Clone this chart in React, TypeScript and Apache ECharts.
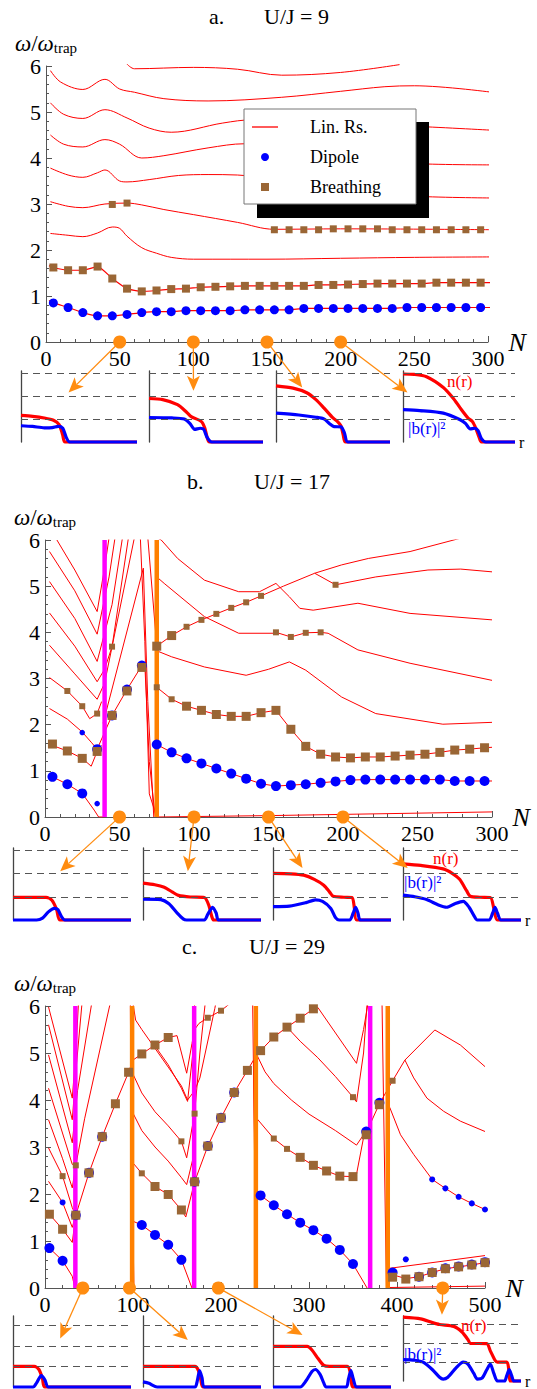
import React, { useEffect, useRef } from 'react';
import * as echarts from 'echarts';

const RED = '#ff0000';
const BLUE = '#0000ff';
const BROWN = '#9a6635';
const ORANGE = '#ff8000';
const MAGENTA = '#ff00ff';
const DOT = '#ff8c10';
const AXIS = '#555555';
const SERIF = '"Liberation Serif", "DejaVu Serif", serif';

// ---------------- Panel a : U/J = 9 ----------------
const aN = [5, 15, 25, 35, 45, 55, 65, 75, 85, 95, 105, 115, 125, 135, 145, 155, 165, 175, 185, 195, 205, 215, 225, 235, 245, 255, 265, 275, 285, 295];
const aDipoleV = [0.85, 0.75, 0.64, 0.57, 0.57, 0.6, 0.64, 0.66, 0.66, 0.68, 0.68, 0.68, 0.68, 0.7, 0.7, 0.7, 0.7, 0.73, 0.73, 0.73, 0.73, 0.73, 0.73, 0.73, 0.75, 0.75, 0.75, 0.75, 0.75, 0.75];
const aBreathV = [1.62, 1.56, 1.56, 1.64, 1.38, 1.16, 1.1, 1.12, 1.15, 1.16, 1.19, 1.2, 1.21, 1.22, 1.22, 1.22, 1.22, 1.22, 1.24, 1.24, 1.25, 1.26, 1.27, 1.27, 1.27, 1.27, 1.29, 1.29, 1.29, 1.29];
const aBreathUpper = [[45, 2.99], [55, 3.02], [155, 2.44], [165, 2.44], [175, 2.44], [185, 2.44], [195, 2.46], [205, 2.46], [215, 2.46], [225, 2.46], [235, 2.44], [245, 2.44], [255, 2.44], [265, 2.44], [275, 2.44], [285, 2.44], [295, 2.44]];
const aLines = [
  [[3, 2.36], [15, 2.32], [25, 2.29], [35, 2.37], [45, 2.5], [50, 2.47], [55, 2.3], [65, 2.05], [75, 1.93], [85, 1.84], [100, 1.8], [150, 1.8], [200, 1.82], [250, 1.84], [305, 1.85]],
  [[3, 3.05], [15, 2.95], [25, 2.92], [40, 3.0], [55, 3.02], [65, 2.98], [80, 2.88], [100, 2.77], [130, 2.6], [155, 2.45], [200, 2.46], [305, 2.44]],
  [[3, 3.78], [15, 3.63], [25, 3.58], [35, 3.68], [40, 3.74], [50, 3.5], [55, 3.48], [70, 3.53], [90, 3.62], [110, 3.64], [130, 3.63], [150, 3.55], [200, 3.3], [250, 3.17], [305, 3.13]],
  [[3, 4.5], [12, 4.3], [25, 4.24], [40, 4.4], [50, 4.3], [65, 4.0], [80, 4.05], [110, 4.22], [135, 4.31], [165, 4.3], [200, 4.1], [250, 3.88], [305, 3.85]],
  [[3, 5.2], [12, 4.95], [25, 4.86], [40, 5.05], [55, 4.87], [70, 4.65], [85, 4.56], [120, 4.76], [140, 4.83], [200, 4.75], [250, 4.69], [305, 4.6]],
  [[3, 5.9], [10, 5.65], [25, 5.49], [40, 5.71], [50, 5.5], [60, 5.43], [80, 5.29], [110, 5.24], [160, 5.32], [200, 5.45], [230, 5.55], [250, 5.57], [305, 5.42]],
  [[55, 6.04], [60, 5.94], [100, 5.97], [130, 5.93], [160, 5.8], [200, 5.86], [240, 6.03]],
];
const aProbeN = [50, 100, 150, 200];

// ---------------- Panel b : U/J = 17 ----------------
const bDipoleBig = [[5, 0.87], [15, 0.71], [25, 0.51], [35, 1.47], [45, 2.2], [55, 2.76], [65, 3.28], [75, 1.57], [85, 1.4], [95, 1.27], [105, 1.16], [115, 1.05], [125, 0.94], [135, 0.83], [145, 0.72], [155, 0.67], [165, 0.69], [175, 0.71], [185, 0.74], [195, 0.77], [205, 0.8], [215, 0.81], [225, 0.81], [235, 0.81], [245, 0.81], [255, 0.81], [265, 0.81], [275, 0.78], [285, 0.78], [295, 0.78]];
const bDipoleSmall = [[25, 1.83], [35, 0.29]];
const bBreathBig = [[5, 1.58], [15, 1.43], [25, 1.27], [35, 1.42], [45, 2.2], [55, 2.73], [65, 3.24], [75, 3.7], [85, 3.93], [95, 2.4], [105, 2.31], [115, 2.22], [125, 2.18], [135, 2.18], [145, 2.26], [155, 2.31], [165, 1.9], [175, 1.53], [185, 1.36], [195, 1.3], [205, 1.28], [215, 1.3], [225, 1.3], [235, 1.32], [245, 1.34], [255, 1.36], [265, 1.4], [275, 1.45], [285, 1.47], [295, 1.5]];
const bBreathSmall = [[15, 2.73], [25, 2.4], [35, 2.24], [45, 3.69], [75, 2.81], [85, 2.55], [95, 4.12], [105, 4.27], [115, 4.4], [125, 4.53], [135, 4.65], [145, 4.79], [155, 4.0], [165, 3.9], [175, 3.99], [185, 4.0], [195, 5.03]];
const bLines = [
  [[8, 6.0], [20, 5.35], [35, 4.45], [40, 5.4], [43, 6.05]],
  [[3, 5.75], [20, 4.9], [35, 3.96], [43, 5.2], [47, 6.05]],
  [[3, 5.1], [20, 4.3], [35, 3.37], [45, 4.6], [52, 6.05]],
  [[3, 4.42], [20, 3.7], [35, 2.93], [40, 3.2], [45, 3.69], [56, 6.05]],
  [[3, 3.72], [20, 3.1], [35, 2.55], [40, 2.9], [60, 6.05]],
  [[3, 3.02], [15, 2.73], [25, 2.4], [30, 2.13], [35, 2.24], [38, 2.5]],
  [[39, 2.03], [66, 5.39], [69, 2.5], [73, 0]],
  [[3, 2.35], [15, 2.12], [25, 1.84], [31, 1.62], [35, 1.47], [45, 2.2], [55, 2.76], [65, 3.28], [67, 3.3], [70, 1.2], [74, 0]],
  [[3, 1.6], [5, 1.55], [15, 1.43], [25, 1.27], [31, 1.1], [35, 1.42], [38, 1.55]],
  [[3, 0.9], [5, 0.87], [15, 0.71], [25, 0.51], [33, 0.15], [36, 0], [40, 0]],
  [[64, 6.05], [67, 3.8], [70, 0.5], [75, 0]],
  [[69, 6.05], [75, 3.7]],
  [[75, 3.7], [85, 3.93], [95, 4.12], [105, 4.27], [115, 4.4], [125, 4.53], [135, 4.65], [145, 4.79], [160, 5.0], [181, 5.28], [199, 5.46], [217, 5.6], [245, 5.75], [279, 6.04], [285, 6.1]],
  [[75, 6.05], [78, 6.0], [89, 5.6], [107, 5.13], [130, 4.88], [144, 4.88], [155, 5.06], [164, 4.77], [171, 4.52], [180, 4.48], [210, 4.63], [245, 4.41], [300, 4.27]],
  [[181, 5.28], [195, 5.03], [222, 5.2], [257, 5.35], [279, 5.37], [300, 5.31]],
  [[75, 5.2], [80, 5.06], [107, 4.34], [130, 3.98], [153, 3.98], [155, 4.0], [165, 3.9], [175, 3.99], [185, 4.0], [190, 3.98], [210, 3.62], [245, 3.33], [300, 2.96]],
  [[75, 3.6], [85, 3.47], [107, 3.25], [135, 3.07], [150, 3.2], [164, 3.36], [175, 3.18], [199, 2.6], [222, 2.24], [267, 2.01], [300, 2.05]],
  [[75, 2.81], [85, 2.55], [95, 2.4], [105, 2.31], [115, 2.22], [125, 2.18], [135, 2.18], [145, 2.26], [155, 2.31], [165, 1.9], [175, 1.53], [185, 1.36], [195, 1.3], [205, 1.28], [215, 1.3], [225, 1.3], [235, 1.32], [245, 1.34], [255, 1.36], [265, 1.4], [275, 1.45], [285, 1.47], [295, 1.5], [300, 1.51]],
  [[75, 1.57], [85, 1.4], [95, 1.27], [105, 1.16], [115, 1.05], [125, 0.94], [135, 0.83], [145, 0.72], [155, 0.67], [165, 0.69], [175, 0.71], [185, 0.74], [195, 0.77], [205, 0.8], [215, 0.81], [265, 0.81], [275, 0.78], [300, 0.78]],
  [[75, 0], [150, 0.03], [300, 0.11]],
];
const bMagentaN = [40];
const bOrangeN = [75];
const bProbeN = [50, 100, 150, 200];

// ---------------- Panel c : U/J = 29 ----------------
const cDipoleBig = [[5, 0.85], [20, 0.58], [35, 1.55], [50, 2.45], [65, 3.22], [110, 1.34], [125, 1.13], [140, 0.92], [155, 0.6], [170, 2.26], [185, 3.02], [200, 3.62], [215, 4.16], [245, 1.97], [260, 1.76], [275, 1.57], [290, 1.39], [305, 1.23], [320, 1.05], [335, 0.81], [350, 0.51], [365, 3.33], [380, 3.94], [395, 0.33], [425, 0.24], [440, 0.33], [455, 0.42], [470, 0.46], [485, 0.5], [500, 0.55]];
const cDipoleSmall = [[20, 1.82], [410, 0.61], [440, 2.31], [455, 2.12], [470, 1.94], [485, 1.8], [500, 1.67]];
const cBreathBig = [[5, 1.57], [20, 1.25], [35, 1.55], [50, 2.45], [65, 3.22], [80, 3.92], [95, 4.59], [110, 4.98], [125, 5.17], [140, 5.33], [125, 2.16], [140, 1.99], [155, 1.66], [170, 2.26], [185, 3.02], [200, 3.62], [215, 4.16], [230, 4.63], [245, 5.05], [260, 5.34], [275, 5.55], [290, 5.74], [305, 5.94], [290, 2.78], [305, 2.61], [320, 2.49], [335, 2.38], [350, 2.37], [365, 3.26], [380, 3.9], [395, 0.23], [410, 0.19], [425, 0.24], [440, 0.33], [455, 0.41], [470, 0.45], [485, 0.49], [500, 0.54]];
const cBreathSmall = [[20, 2.38], [35, 2.61], [110, 2.44], [155, 3.12], [170, 3.71], [185, 5.75], [200, 5.9], [260, 3.18], [275, 2.96], [350, 4.06], [395, 4.41]];
const cLines = [
  [[4, 5.98], [31, 4.04], [35, 5.0], [38, 6.05]],
  [[4, 5.6], [31, 3.58], [36, 4.8], [42, 6.05]],
  [[4, 4.96], [31, 3.09], [37, 4.2], [53, 6.05]],
  [[4, 4.25], [31, 2.63], [35, 2.61], [45, 3.6], [74, 6.05]],
  [[4, 3.58], [20, 2.75], [31, 2.13], [35, 2.61]],
  [[4, 2.98], [20, 2.38], [31, 1.71], [35, 1.55]],
  [[4, 2.27], [20, 1.82], [31, 1.29], [35, 1.55]],
  [[4, 1.6], [5, 1.57], [20, 1.25], [31, 0.97], [35, 1.55], [50, 2.45], [65, 3.22], [80, 3.92], [95, 4.59], [98, 4.75], [99.5, 2.0], [101, 0]],
  [[4, 0.87], [5, 0.85], [20, 0.58], [31, 0.25], [34, 0]],
  [[97, 6.05], [99, 0.5], [100, 0]],
  [[100, 6.05], [103, 5.7], [110, 5.5], [125, 5.1], [140, 4.7], [155, 4.3], [162, 4.0], [170, 4.2], [176, 4.47], [193, 5.95], [194, 6.05]],
  [[100, 4.85], [110, 4.98], [125, 5.17], [140, 5.33], [150, 5.37], [161, 4.57], [167, 5.2], [170, 5.5], [175, 5.63], [185, 5.75], [200, 5.9], [210, 6.05]],
  [[125, 5.15], [140, 4.75], [155, 4.25], [162, 3.97], [168, 5.0], [170, 6.05]],
  [[100, 4.55], [110, 4.15], [125, 3.75], [140, 3.45], [155, 3.12], [161, 2.77], [170, 3.71], [176, 5.0], [182, 6.05]],
  [[100, 3.72], [110, 3.35], [125, 3.0], [140, 2.7], [155, 2.35], [161, 2.2], [170, 2.9]],
  [[100, 2.66], [110, 2.44], [125, 2.16], [140, 1.99], [155, 1.66], [160, 1.51], [170, 2.26], [185, 3.02], [200, 3.62], [215, 4.16], [230, 4.63], [237, 4.85], [239, 2.0], [240.5, 0]],
  [[100, 1.42], [110, 1.34], [125, 1.13], [140, 0.92], [155, 0.6], [167, 0]],
  [[236, 6.05], [240, 0]],
  [[240, 4.95], [245, 5.05], [260, 5.34], [275, 5.55], [290, 5.74], [305, 5.94], [310, 5.97], [354, 4.78], [362, 5.5], [367, 6.05]],
  [[275, 5.55], [290, 5.25], [310, 4.9], [330, 4.5], [350, 4.06], [354, 3.96], [362, 5.0], [366, 6.05]],
  [[241, 4.95], [250, 4.6], [260, 4.35], [280, 4.0], [300, 3.7], [330, 3.35], [354, 3.04], [362, 3.26]],
  [[241, 3.6], [260, 3.18], [275, 2.96], [290, 2.78], [305, 2.61], [320, 2.49], [335, 2.38], [350, 2.37], [354, 2.42], [362, 3.2], [365, 3.3], [380, 3.92], [395, 4.41], [409, 4.85], [443, 5.49], [472, 5.17], [500, 4.71]],
  [[241, 2.05], [245, 1.97], [260, 1.76], [275, 1.57], [290, 1.39], [305, 1.23], [320, 1.05], [335, 0.81], [350, 0.51], [366, 0]],
  [[383, 6.05], [388, 0]],
  [[409, 4.85], [419, 4.47], [434, 4.04], [453, 3.76], [472, 3.55], [500, 3.33]],
  [[390, 3.9], [392, 3.83], [404, 3.26], [419, 2.84], [440, 2.31], [455, 2.12], [470, 1.94], [485, 1.8], [500, 1.67]],
  [[392, 0.42], [500, 0.69]],
  [[392, 0.3], [410, 0.2], [425, 0.24], [440, 0.33], [455, 0.41], [470, 0.45], [485, 0.49], [500, 0.54]],
  [[390, 0.01], [500, 0.04]],
];
const cMagentaN = [34.5, 169.5, 369.5];
const cOrangeN = [99, 239.6, 389.5];
const cProbeN = [43, 96, 197, 452];

// ---------------- Insets: n(r) and |b(r)|^2 ----------------
const aInsetN = [
  [[0, 1.16], [0.1, 1.12], [0.2, 1.05], [0.28, 0.95], [0.33, 0.75], [0.36, 0.3], [0.38, 0], [1, 0]],
  [[0, 1.9], [0.12, 1.85], [0.25, 1.63], [0.33, 1.3], [0.37, 1.11], [0.46, 0.89], [0.49, 0.6], [0.51, 0.2], [0.53, 0], [1, 0]],
  [[0, 2.45], [0.15, 2.35], [0.27, 2.15], [0.35, 1.85], [0.42, 1.49], [0.5, 1.05], [0.54, 0.89], [0.57, 0.7], [0.59, 0.3], [0.61, 0], [1, 0]],
  [[0, 2.97], [0.1, 2.95], [0.21, 2.85], [0.36, 2.38], [0.45, 1.9], [0.51, 1.49], [0.58, 1.05], [0.62, 0.89], [0.65, 0.6], [0.68, 0.2], [0.7, 0], [1, 0]],
];
const aInsetB = [
  [[0, 0.71], [0.1, 0.68], [0.2, 0.62], [0.27, 0.63], [0.32, 0.68], [0.36, 0.6], [0.39, 0.2], [0.42, 0], [1, 0]],
  [[0, 1.07], [0.2, 1.05], [0.31, 1.0], [0.36, 0.8], [0.4, 0.55], [0.45, 0.6], [0.48, 0.55], [0.51, 0.2], [0.55, 0], [1, 0]],
  [[0, 1.26], [0.2, 1.18], [0.35, 1.08], [0.42, 1.01], [0.47, 0.8], [0.51, 0.67], [0.57, 0.66], [0.6, 0.4], [0.63, 0], [1, 0]],
  [[0, 1.41], [0.15, 1.37], [0.36, 1.26], [0.51, 0.97], [0.56, 0.8], [0.6, 0.57], [0.64, 0.6], [0.67, 0.5], [0.7, 0.15], [0.74, 0], [1, 0]],
];
const bInsetN = [
  [[0, 0.97], [0.28, 0.97], [0.33, 0.85], [0.37, 0.45], [0.4, 0], [1, 0]],
  [[0, 1.59], [0.1, 1.52], [0.18, 1.41], [0.25, 1.2], [0.3, 1.06], [0.4, 0.99], [0.52, 0.97], [0.56, 0.6], [0.58, 0.2], [0.6, 0], [1, 0]],
  [[0, 2.01], [0.15, 1.99], [0.26, 1.93], [0.35, 1.75], [0.43, 1.5], [0.48, 1.2], [0.51, 1.02], [0.6, 0.98], [0.67, 0.97], [0.69, 0.5], [0.71, 0], [1, 0]],
  [[0, 2.42], [0.15, 2.35], [0.34, 2.2], [0.42, 2.0], [0.48, 1.75], [0.54, 1.25], [0.57, 1.02], [0.65, 0.98], [0.74, 0.97], [0.77, 0.5], [0.8, 0], [1, 0]],
];
const bInsetB = [
  [[0, 0], [0.2, 0], [0.25, 0.08], [0.3, 0.35], [0.35, 0.5], [0.38, 0.45], [0.41, 0.15], [0.44, 0], [1, 0]],
  [[0, 0.9], [0.15, 0.88], [0.22, 0.7], [0.29, 0.3], [0.34, 0.05], [0.37, 0], [0.52, 0], [0.55, 0.25], [0.59, 0.55], [0.62, 0.3], [0.64, 0], [1, 0]],
  [[0, 0.58], [0.14, 0.6], [0.28, 0.75], [0.36, 0.87], [0.42, 0.8], [0.49, 0.5], [0.53, 0.1], [0.56, 0], [0.65, 0], [0.68, 0.3], [0.7, 0.55], [0.72, 0.3], [0.74, 0], [1, 0]],
  [[0, 1.07], [0.1, 1.0], [0.2, 0.88], [0.3, 0.65], [0.37, 0.55], [0.44, 0.7], [0.51, 0.8], [0.56, 0.55], [0.6, 0.2], [0.63, 0], [0.73, 0], [0.76, 0.3], [0.78, 0.55], [0.8, 0.3], [0.83, 0], [1, 0]],
];
const cInsetN = [
  [[0, 1.0], [0.18, 1.0], [0.22, 0.85], [0.25, 0.4], [0.27, 0], [1, 0]],
  [[0, 1.0], [0.44, 1.0], [0.47, 0.8], [0.49, 0.35], [0.51, 0], [1, 0]],
  [[0, 1.97], [0.29, 1.97], [0.33, 1.8], [0.38, 1.4], [0.43, 1.05], [0.48, 1.0], [0.63, 1.0], [0.66, 0.6], [0.68, 0], [1, 0]],
  [[0, 3.39], [0.15, 3.3], [0.25, 3.1], [0.31, 3.0], [0.43, 2.9], [0.5, 2.6], [0.55, 2.2], [0.57, 2.0], [0.71, 1.98], [0.74, 1.6], [0.78, 1.1], [0.8, 1.0], [0.88, 1.0], [0.9, 0.4], [0.91, 0], [1, 0]],
];
const cInsetB = [
  [[0, 0], [0.17, 0], [0.2, 0.2], [0.24, 0.55], [0.27, 0.35], [0.3, 0], [1, 0]],
  [[0, 0.25], [0.05, 0.18], [0.12, 0], [0.44, 0], [0.46, 0.3], [0.48, 0.8], [0.5, 0.45], [0.52, 0], [1, 0]],
  [[0, 0], [0.23, 0], [0.28, 0.3], [0.33, 0.75], [0.36, 0.85], [0.4, 0.6], [0.43, 0.2], [0.45, 0], [0.62, 0], [0.64, 0.4], [0.66, 0.8], [0.68, 0.4], [0.71, 0], [1, 0]],
  [[0, 1.13], [0.1, 1.1], [0.17, 1.0], [0.25, 0.6], [0.31, 0.2], [0.34, 0.1], [0.38, 0.2], [0.45, 0.7], [0.51, 1.0], [0.55, 0.9], [0.6, 0.4], [0.63, 0.1], [0.67, 0.15], [0.71, 0.6], [0.74, 0.9], [0.77, 0.4], [0.8, 0], [0.86, 0], [0.88, 0.3], [0.9, 0.6], [0.92, 0.3], [0.94, 0], [1, 0]],
];
const insetLevels = [1, 2, 3];
const aArrowTips = [[0.41, 2.16], [0.39, 2.24], [0.23, 2.38], [0.04, 2.16]];
const bArrowTips = [[0.4, 2.1], [0.38, 2.1], [0.25, 2.24], [0.04, 2.24]];
const cArrowTips = [[0.4, 2.36], [0.38, 2.28], [0.25, 2.53], [0.33, 3.52]];

// ---------------- layout ----------------
const MAIN = [
  { left: 46, top: 66, width: 442, height: 276, xMax: 300, xInt: 50 },
  { left: 45, top: 540, width: 447, height: 277, xMax: 300, xInt: 50 },
  { left: 45, top: 1006, width: 440, height: 282, xMax: 500, xInt: 100 },
];
const INSET_COLS = [
  [[21, 116], [149, 114], [276, 114], [403, 112]],
  [[13, 118], [143, 118], [273, 118], [403, 118]],
  [[13, 118], [143, 118], [273, 118], [403, 118]],
];
const INSET_ROWS = [
  { top: 371, height: 71, max: 3.1 },
  { top: 848, height: 72, max: 3.1 },
  { top: 1316, height: 71, max: 3.45 },
];

const yName = '{i|ω}{n|/}{i|ω}{s|trap}';
const yNameRich = {
  i: { fontFamily: SERIF, fontSize: 23, fontStyle: 'italic', color: '#000' },
  n: { fontFamily: SERIF, fontSize: 23, color: '#000' },
  s: { fontFamily: SERIF, fontSize: 15, color: '#000', verticalAlign: 'bottom', lineHeight: 12 },
};

function mainX(g: number, max: number, interval: number) {
  return {
    type: 'value', gridIndex: g, min: 0, max, interval,
    axisLine: { show: true, lineStyle: { color: AXIS, width: 1 } },
    axisTick: { show: true, inside: true, length: 6, lineStyle: { color: AXIS } },
    minorTick: { show: true, splitNumber: 5, length: 3, lineStyle: { color: AXIS } },
    splitLine: { show: false },
    axisLabel: { fontFamily: SERIF, fontSize: 22, color: '#000', margin: 5 },
    name: 'N', nameLocation: 'end', nameGap: 14,
    nameTextStyle: { fontFamily: SERIF, fontSize: 26, fontStyle: 'italic', color: '#000' },
  };
}
function mainY(g: number) {
  return {
    type: 'value', gridIndex: g, min: 0, max: 6, interval: 1,
    axisLine: { show: true, lineStyle: { color: AXIS, width: 1 } },
    axisTick: { show: true, inside: true, length: 6, lineStyle: { color: AXIS } },
    minorTick: { show: true, splitNumber: 5, length: 3, lineStyle: { color: AXIS } },
    splitLine: { show: false },
    axisLabel: { fontFamily: SERIF, fontSize: 22, color: '#000', margin: 5 },
    name: yName, nameLocation: 'end', nameGap: 8,
    nameTextStyle: { rich: yNameRich, color: '#000' },
  };
}
function insetX(g: number, withR: boolean) {
  return {
    type: 'value', gridIndex: g, min: 0, max: 1,
    axisLine: { show: false }, axisTick: { show: false }, axisLabel: { show: false }, splitLine: { show: false },
    name: withR ? 'r' : '', nameLocation: 'end', nameGap: 4,
    nameTextStyle: { fontFamily: SERIF, fontSize: 16, color: '#000', verticalAlign: 'middle' },
  };
}
function insetY(g: number, max: number) {
  return {
    type: 'value', gridIndex: g, min: 0, max,
    axisLine: { show: true, lineStyle: { color: '#444', width: 1.3 } },
    axisTick: { show: false }, axisLabel: { show: false }, splitLine: { show: false },
  };
}
function red(g: number, data: number[][], width = 1, clip = true, smooth: number | boolean = false) {
  return {
    type: 'line', name: 'Lin. Rs.', xAxisIndex: g, yAxisIndex: g, data, symbol: 'none', showSymbol: false,
    smooth, lineStyle: { color: RED, width }, itemStyle: { color: RED }, clip, z: 2, silent: true,
  };
}
function vline(g: number, n: number, color: string) {
  return {
    type: 'line', name: 'boundary', xAxisIndex: g, yAxisIndex: g, data: [[n, 0], [n, 6]], symbol: 'none',
    lineStyle: { color, width: 4.5 }, z: 3, silent: true,
  };
}
function marks(g: number, data: number[][], name: string, shape: string, size: number, color: string, z: number) {
  return {
    type: 'scatter', name, xAxisIndex: g, yAxisIndex: g, data, symbol: shape, symbolSize: size,
    itemStyle: { color, opacity: 1 }, z, silent: true, clip: false,
  };
}
function probes(g: number, ns: number[]) {
  return {
    type: 'scatter', name: 'probe', xAxisIndex: g, yAxisIndex: g, data: ns.map((n) => [n, 0]),
    symbol: 'circle', symbolSize: 13, itemStyle: { color: DOT, opacity: 1 }, z: 6, clip: false, silent: true,
  };
}
function insetSeries(g: number, nData: number[][], bData: number[][]) {
  return [
    {
      type: 'line', name: 'levels', xAxisIndex: g, yAxisIndex: g, data: [], symbol: 'none', silent: true, z: 1,
      markLine: {
        silent: true, symbol: ['none', 'none'], label: { show: false },
        lineStyle: { type: [7, 5], color: '#555', width: 1.2 },
        data: insetLevels.map((v) => ({ yAxis: v })),
      },
    },
    {
      type: 'line', name: 'n(r)', xAxisIndex: g, yAxisIndex: g, data: nData, symbol: 'none', smooth: 0.25,
      lineStyle: { color: RED, width: 3.2 }, z: 2, silent: true, clip: false,
    },
    {
      type: 'line', name: '|b(r)|²', xAxisIndex: g, yAxisIndex: g, data: bData, symbol: 'none', smooth: 0.25,
      lineStyle: { color: BLUE, width: 3.2 }, z: 3, silent: true, clip: false,
    },
  ];
}

const titleStyle = { fontFamily: SERIF, fontSize: 22, fontWeight: 'normal', color: '#000' };
const labelFont = `17px ${SERIF}`;

function buildOption(): any {
  const grid: any[] = [];
  const xAxis: any[] = [];
  const yAxis: any[] = [];
  const series: any[] = [];
  MAIN.forEach((m, g) => {
    grid.push({ left: m.left, top: m.top, width: m.width, height: m.height });
    xAxis.push(mainX(g, m.xMax, m.xInt));
    yAxis.push(mainY(g));
  });
  INSET_COLS.forEach((cols, p) => {
    cols.forEach((c, k) => {
      const gi = 3 + p * 4 + k;
      grid.push({ left: c[0], width: c[1], top: INSET_ROWS[p].top, height: INSET_ROWS[p].height });
      xAxis.push(insetX(gi, k === 3));
      yAxis.push(insetY(gi, INSET_ROWS[p].max));
    });
  });

  // panel a
  const aDip = aN.map((n, i) => [n, aDipoleV[i]]);
  const aBr = aN.map((n, i) => [n, aBreathV[i]]);
  aLines.forEach((l) => series.push(red(0, l, 1, false, 0.35)));
  series.push(red(0, [[2, 0.9], ...aDip, [305, 0.75]], 1.2, false, 0.2));
  series.push(red(0, [[2, 1.66], ...aBr, [305, 1.29]], 1.2, false, 0.2));
  series.push(marks(0, aDip, 'Dipole', 'circle', 9, BLUE, 4));
  series.push(marks(0, aBr, 'Breathing', 'rect', 8, BROWN, 5));
  series.push(marks(0, aBreathUpper, 'Breathing', 'rect', 7, BROWN, 5));
  series.push(probes(0, aProbeN));

  // panel b
  bLines.forEach((l) => series.push(red(1, l, 1)));
  bMagentaN.forEach((n) => series.push(vline(1, n, MAGENTA)));
  bOrangeN.forEach((n) => series.push(vline(1, n, ORANGE)));
  series.push(marks(1, bDipoleBig, 'Dipole', 'circle', 10, BLUE, 4));
  series.push(marks(1, bDipoleSmall, 'Dipole', 'circle', 5.5, BLUE, 4));
  series.push(marks(1, bBreathBig, 'Breathing', 'rect', 9, BROWN, 5));
  series.push(marks(1, bBreathSmall, 'Breathing', 'rect', 6, BROWN, 5));
  series.push(probes(1, bProbeN));

  // panel c
  cLines.forEach((l) => series.push(red(2, l, 1)));
  cMagentaN.forEach((n) => series.push(vline(2, n, MAGENTA)));
  cOrangeN.forEach((n) => series.push(vline(2, n, ORANGE)));
  series.push(marks(2, cDipoleBig, 'Dipole', 'circle', 10, BLUE, 4));
  series.push(marks(2, cDipoleSmall, 'Dipole', 'circle', 6, BLUE, 4));
  series.push(marks(2, cBreathBig, 'Breathing', 'rect', 9, BROWN, 5));
  series.push(marks(2, cBreathSmall, 'Breathing', 'rect', 6, BROWN, 5));
  series.push(probes(2, cProbeN));

  // insets
  const insetN = [aInsetN, bInsetN, cInsetN];
  const insetB = [aInsetB, bInsetB, cInsetB];
  for (let p = 0; p < 3; p++) {
    for (let k = 0; k < 4; k++) {
      series.push(...insetSeries(3 + p * 4 + k, insetN[p][k], insetB[p][k]));
    }
  }

  const graphic: any[] = [
    { type: 'rect', id: 'legendShadow', shape: { x: 257, y: 122, width: 172, height: 96 }, style: { fill: '#000' }, z: 19, silent: true },
    { type: 'text', id: 'na', x: 447, y: 373, style: { text: 'n(r)', fill: RED, font: labelFont }, z: 25 },
    { type: 'text', id: 'ba', x: 408, y: 420, style: { text: '|b(r)|²', fill: BLUE, font: labelFont }, z: 25 },
    { type: 'text', id: 'nb', x: 433, y: 850, style: { text: 'n(r)', fill: RED, font: labelFont }, z: 25 },
    { type: 'text', id: 'bb', x: 404, y: 874, style: { text: '|b(r)|²', fill: BLUE, font: labelFont }, z: 25 },
    { type: 'text', id: 'nc', x: 461, y: 1317, style: { text: 'n(r)', fill: RED, font: labelFont }, z: 25 },
    { type: 'text', id: 'bc', x: 404, y: 1346, style: { text: '|b(r)|²', fill: BLUE, font: labelFont }, z: 25 },
  ];

  return {
    animation: false,
    backgroundColor: '#ffffff',
    title: [
      { text: 'a.', left: 209, top: 5, padding: 0, textStyle: titleStyle },
      { text: 'U/J = 9', left: 264, top: 5, padding: 0, textStyle: titleStyle },
      { text: 'b.', left: 187, top: 470, padding: 0, textStyle: titleStyle },
      { text: 'U/J = 17', left: 254, top: 470, padding: 0, textStyle: titleStyle },
      { text: 'c.', left: 182, top: 935, padding: 0, textStyle: titleStyle },
      { text: 'U/J = 29', left: 249, top: 935, padding: 0, textStyle: titleStyle },
    ],
    legend: {
      show: true, orient: 'vertical', left: 244, top: 109, z: 20,
      data: [
        { name: 'Lin. Rs.', icon: 'path://M0 0H24V1.2H0Z', itemStyle: { color: RED } },
        { name: 'Dipole', icon: 'circle' },
        { name: 'Breathing', icon: 'path://M0 0H10V10H0Z' },
      ],
      itemWidth: 26, itemHeight: 8, itemGap: 10,
      padding: [8, 24, 7, 8],
      backgroundColor: '#ffffff', borderColor: '#777777', borderWidth: 1,
      selectedMode: false,
      textStyle: { fontFamily: SERIF, fontSize: 18, color: '#000', padding: [0, 0, 0, 27], width: 82, lineHeight: 20 },
    },
    grid, xAxis, yAxis, series, graphic,
  };
}

function arrowElements(chart: any): any[] {
  const els: any[] = [];
  const sets = [
    { g: 0, ns: aProbeN, first: 3, tips: aArrowTips },
    { g: 1, ns: bProbeN, first: 7, tips: bArrowTips },
    { g: 2, ns: cProbeN, first: 11, tips: cArrowTips },
  ];
  sets.forEach((s, si) => {
    s.ns.forEach((n, i) => {
      const p0 = chart.convertToPixel({ gridIndex: s.g }, [n, 0]);
      const p1 = chart.convertToPixel({ gridIndex: s.first + i }, s.tips[i]);
      if (!p0 || !p1) return;
      const dx = p1[0] - p0[0];
      const dy = p1[1] - p0[1];
      const len = Math.hypot(dx, dy) || 1;
      const ux = dx / len;
      const uy = dy / len;
      const L = 15;
      const W = 6.5;
      const bx = p1[0] - ux * L;
      const by = p1[1] - uy * L;
      const nx = bx + ux * L * 0.25;
      const ny = by + uy * L * 0.25;
      els.push({
        type: 'line', id: `al${si}${i}`, silent: true, z: 30,
        shape: { x1: p0[0] + ux * 5, y1: p0[1] + uy * 5, x2: nx, y2: ny },
        style: { stroke: DOT, lineWidth: 1.3 },
      });
      els.push({
        type: 'polygon', id: `ah${si}${i}`, silent: true, z: 30,
        shape: { points: [[p1[0], p1[1]], [bx - uy * W, by + ux * W], [nx, ny], [bx + uy * W, by - ux * W]] },
        style: { fill: DOT },
      });
    });
  });
  return els;
}

export default function App() {
  const ref = useRef<HTMLDivElement>(null);
  useEffect(() => {
    if (!ref.current) return;
    const chart = echarts.init(ref.current, null, { renderer: 'svg' });
    const base = buildOption();
    chart.setOption(base);
    const arrows = arrowElements(chart);
    chart.setOption({ ...base, graphic: [...base.graphic, ...arrows] }, true);
    return () => chart.dispose();
  }, []);
  return <div ref={ref} style={{ position: 'absolute', left: 0, top: 0, width: 537, height: 1389 }} />;
}
